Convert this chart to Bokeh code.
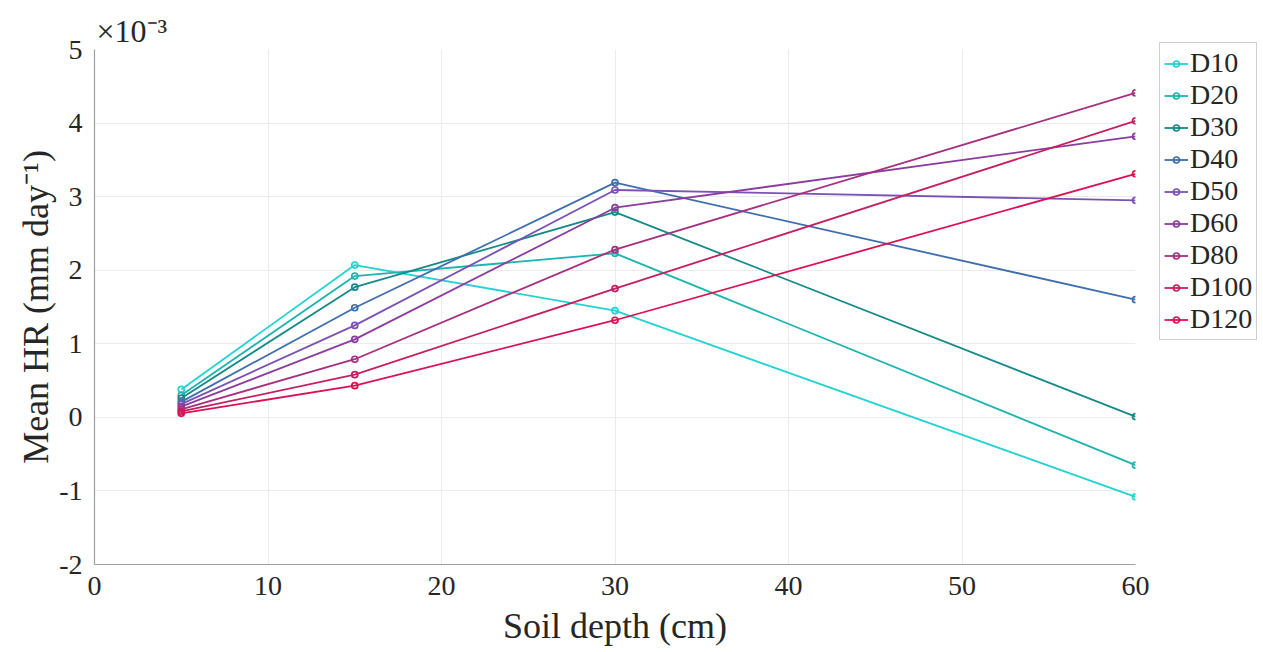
from bokeh.plotting import figure
from bokeh.models import Legend, LegendItem, FixedTicker
from bokeh.embed import file_html
from bokeh.resources import INLINE

depths = [5, 15, 30, 60]
series_names = ["D10", "D20", "D30", "D40", "D50", "D60", "D80", "D100", "D120"]
# values in units of 1e-3 mm/day
D10 = [0.38, 2.07, 1.45, -1.08]
D20 = [0.30, 1.92, 2.23, -0.65]
D30 = [0.26, 1.77, 2.79, 0.01]
D40 = [0.21, 1.49, 3.19, 1.60]
D50 = [0.18, 1.25, 3.09, 2.95]
D60 = [0.145, 1.06, 2.85, 3.82]
D80 = [0.11, 0.79, 2.28, 4.41]
D100 = [0.08, 0.58, 1.75, 4.03]
D120 = [0.055, 0.43, 1.32, 3.31]
series_values = [D10, D20, D30, D40, D50, D60, D80, D100, D120]
colors = ["#22d3d3", "#1db4b0", "#158a88", "#3f6eae", "#7a52b6", "#8c3c9f",
          "#a6307f", "#c61e62", "#dc1151"]
x_ticks = [0, 10, 20, 30, 40, 50, 60]
y_ticks = [-2, -1, 0, 1, 2, 3, 4, 5]
y_tick_labels = ["-2", "-1", "0", "1", "2", "3", "4", "5"]

FONT = "Liberation Serif"

p = figure(output_backend="svg", toolbar_location=None,
           x_range=(0, 60), y_range=(-2, 5),
           frame_width=1041, frame_height=515,
           min_border_left=94, min_border_top=49, min_border_right=122, min_border_bottom=86)
p.outline_line_color = None
p.background_fill_color = "white"
p.border_fill_color = "white"

p.title.text = "\u00d710\u207b\u00b3"
p.title.align = "left"
p.title.text_font = FONT
p.title.text_font_size = "32px"
p.title.text_font_style = "normal"
p.title.text_color = "#262626"
p.title.offset = 2
p.title.standoff = 2

items = []
for name, vals, col in zip(series_names, series_values, colors):
    r1 = p.line(depths, vals, line_color=col, line_width=1.8)
    r2 = p.scatter(depths, vals, marker="circle", size=6, fill_color="white",
                   fill_alpha=0.0, line_color=col, line_width=1.7)
    items.append(LegendItem(label=name, renderers=[r1, r2]))

p.xaxis.ticker = FixedTicker(ticks=x_ticks)
p.yaxis.ticker = FixedTicker(ticks=y_ticks)
p.yaxis.major_label_overrides = {t: s for t, s in zip(y_ticks, y_tick_labels)}
for ax in (p.xaxis[0], p.yaxis[0]):
    ax.major_label_text_font = FONT
    ax.major_label_text_font_size = "28px"
    ax.major_label_text_color = "#262626"
    ax.axis_label_text_font = FONT
    ax.axis_label_text_font_size = "36px"
    ax.axis_label_text_font_style = "normal"
    ax.axis_label_text_color = "#262626"
    ax.axis_line_color = "#a0a0a0"
    ax.axis_line_width = 1.2
    ax.major_tick_line_color = None
    ax.minor_tick_line_color = None
    ax.major_label_standoff = 6

p.xaxis.axis_label = "Soil depth (cm)"
p.yaxis.axis_label = "Mean HR (mm day\u207b\u00b9)"
p.xaxis.axis_label_standoff = 8
p.yaxis.axis_label_standoff = 0

p.xgrid.grid_line_color = "#ebebeb"
p.ygrid.grid_line_color = "#ebebeb"
p.xgrid.ticker = FixedTicker(ticks=x_ticks)
p.ygrid.ticker = FixedTicker(ticks=y_ticks)

legend = Legend(items=items, location=(24, 224))
legend.label_text_font = FONT
legend.label_text_font_size = "28px"
legend.label_text_color = "#262626"
legend.glyph_width = 24
legend.glyph_height = 15
legend.label_height = 28
legend.spacing = 0
legend.padding = 4
legend.margin = 0
legend.label_standoff = 2
legend.border_line_color = "#a0a0a0"
legend.border_line_width = 1.2
legend.background_fill_color = "white"
legend.background_fill_alpha = 1.0
p.add_layout(legend, "right")

open("out.html", "w").write(file_html(p, INLINE))
